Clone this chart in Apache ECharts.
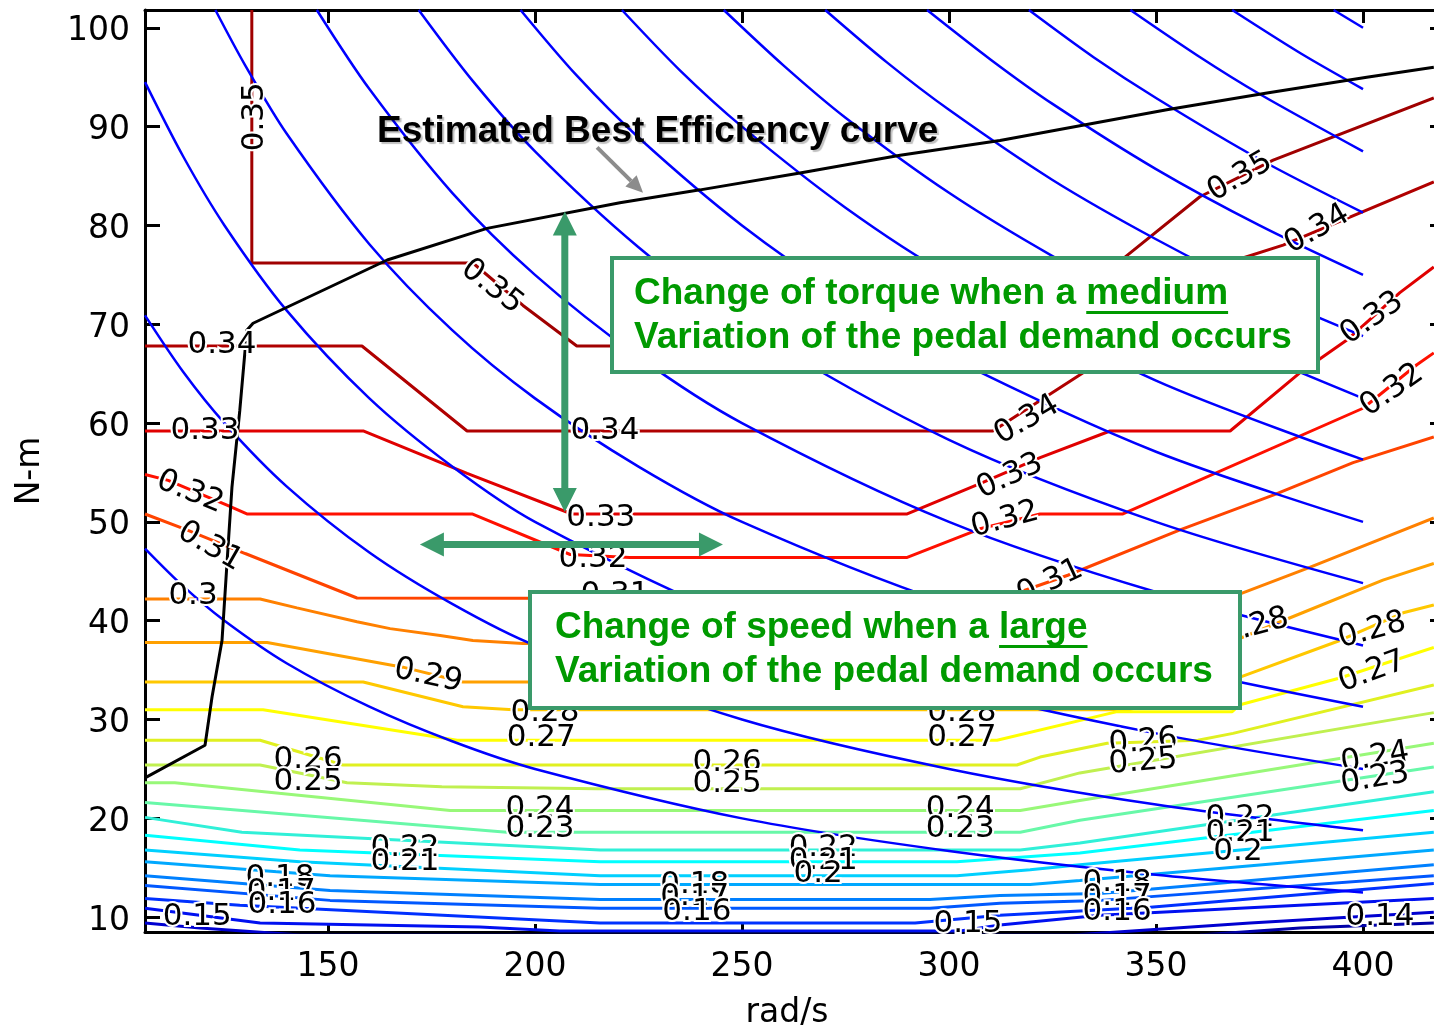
<!DOCTYPE html>
<html><head><meta charset="utf-8">
<script src="https://cdn.jsdelivr.net/npm/echarts@6/dist/echarts.min.js"></script>
<style>html,body{margin:0;padding:0;background:#fff;overflow:hidden}#c{width:1434px;height:1025px}</style>
</head><body><div id="c"></div>
<script>
// ---------- axes ----------
const X_MIN = 105.8, X_MAX = 419.8, Y_MIN = 8.5, Y_MAX = 101.8;
const xTicks = [150, 200, 250, 300, 350, 400];
const yTicks = [10, 20, 30, 40, 50, 60, 70, 80, 90, 100];

// ---------- estimated best efficiency curve (rad/s, N·m) ----------
const bestEfficiency = [[105.8,24.1],[120.3,27.4],[122.0,32.3],[124.4,38.0],[125.6,45.8],[126.8,53.5],[128.7,61.3],[130.4,69.4],[131.9,70.1],[164.3,76.5],[188.4,79.7],[220.5,82.3],[239.9,83.6],[264.0,85.3],[288.2,87.1],[312.3,88.6],[352.6,91.7],[376.8,93.4],[400.9,95.0],[417.1,96.0]];

// ---------- constant power lines (blue) ----------
const power05 = [[105.8,47.3],[115,43.5],[125,40],[140,35.7],[160,31.3],[180,27.8],[200,25],[250,20],[300,16.7],[350,14.3],[400,12.5]];
const power075 = [[105.8,70.9],[115,65.2],[125,60],[140,53.6],[160,46.9],[180,41.7],[200,37.5],[250,30],[300,25],[350,21.4],[400,18.8]];
const power10 = [[105.8,94.5],[115,87],[125,80],[140,71.4],[160,62.5],[180,55.6],[200,50],[250,40],[300,33.3],[350,28.6],[400,25]];
const power125 = [[122.8,101.8],[130,96.2],[140,89.3],[160,78.1],[180,69.4],[200,62.5],[225,55.6],[250,50],[300,41.7],[350,35.7],[400,31.3]];
const power15 = [[147.3,101.8],[160,93.8],[180,83.3],[200,75],[225,66.7],[250,60],[300,50],[350,42.9],[400,37.5]];
const power175 = [[171.9,101.8],[185,94.6],[200,87.5],[225,77.8],[250,70],[300,58.3],[350,50],[400,43.8]];
const power20 = [[196.5,101.8],[210,95.2],[225,88.9],[250,80],[275,72.7],[300,66.7],[350,57.1],[400,50]];
const power225 = [[221,101.8],[235,95.7],[250,90],[275,81.8],[300,75],[350,64.3],[400,56.3]];
const power25 = [[245.6,101.8],[260,96.2],[275,90.9],[300,83.3],[325,76.9],[350,71.4],[400,62.5]];
const power275 = [[270.1,101.8],[285,96.5],[300,91.7],[325,84.6],[350,78.6],[375,73.3],[400,68.8]];
const power30 = [[294.7,101.8],[310,96.8],[325,92.3],[350,85.7],[375,80],[400,75]];
const power325 = [[319.3,101.8],[335,97],[350,92.9],[375,86.7],[400,81.3]];
const power35 = [[343.8,101.8],[360,97.2],[375,93.3],[400,87.5]];
const power375 = [[368.4,101.8],[385,97.4],[400,93.8]];
const power40 = [[392.9,101.8],[400,100]];

// ---------- efficiency contours ----------
const c035 = [[131.6,101.8],[131.6,76.2],[185.0,76.2],[197.1,71.9],[210.1,67.8],[315.7,67.8],[342.5,76.8],[360.6,82.9],[378.3,86.6],[417.1,92.9]];
const c034 = [[105.8,67.8],[158.2,67.8],[183.6,59.2],[310.6,59.2],[332.4,65.1],[367.9,76.3],[380.7,78.0],[417.1,84.4]];
const c033 = [[105.8,59.2],[158.5,59.2],[183.6,54.9],[208.9,50.8],[289.9,50.8],[308.2,54.0],[322.0,56.5],[338.9,59.2],[367.9,59.2],[384.8,65.1],[396.1,68.4],[408.9,73.2],[417.1,75.8]];
const c032 = [[105.8,54.8],[111.4,54.2],[125.6,51.7],[130.4,50.8],[184.8,50.8],[208.5,46.7],[222.9,46.4],[289.9,46.4],[307.5,49.3],[322.0,50.8],[342.0,50.8],[400.0,61.5],[413.0,65.9],[417.1,67.1]];
const c031 = [[105.8,50.8],[115.9,49.2],[130.0,46.8],[157.0,42.3],[312.3,42.2],[328.7,44.6],[355.8,49.2],[378.3,52.7],[397.6,56.0],[417.1,58.6]];
const c030 = [[105.8,42.2],[133.6,42.2],[142.5,41.3],[157.0,39.9],[165.0,39.2],[177.1,38.5],[185.0,38.0],[197.1,37.7],[338.9,37.7],[370.8,42.8],[386.5,45.3],[417.1,50.4]];
const c029 = [[105.8,37.8],[135.3,37.8],[168.1,35.3],[182.6,33.8],[344.7,33.8],[382.4,40.3],[404.8,44.1],[417.1,45.8]];
const c028 = [[105.8,33.8],[158.5,33.8],[182.6,31.3],[194.7,31.0],[343.7,31.0],[370.3,34.3],[394.4,38.0],[409.7,40.8],[417.1,41.6]];
const c027 = [[105.8,31.0],[134.3,31.0],[181.2,27.9],[311.6,27.9],[340.6,30.8],[368.4,30.8],[370.3,31.5],[394.4,34.2],[417.1,37.3]];
const c026 = [[105.8,27.9],[133.6,27.9],[153.6,25.4],[316.4,25.4],[322.0,26.2],[338.2,27.6],[360.1,27.9],[368.6,28.6],[417.1,33.5]];
const c025 = [[105.8,25.4],[133.6,25.4],[154.6,23.6],[177.5,23.2],[215.0,23.0],[317.2,23.0],[331.6,24.6],[417.1,30.7]];
const c024 = [[105.8,23.6],[113.0,23.6],[179.5,20.8],[317.2,20.8],[331.6,21.8],[417.1,27.6]];
const c023 = [[105.8,21.6],[193.2,18.6],[317.2,18.6],[331.6,19.8],[417.1,25.2]];
const c022 = [[105.8,20.1],[129.2,18.6],[215.7,16.8],[317.2,16.8],[331.6,17.5],[417.1,22.7]];
const c021 = [[105.8,18.3],[143.2,16.8],[215.7,15.6],[301.9,15.6],[331.6,16.5],[417.1,20.8]];
const c020 = [[105.8,16.8],[143.2,15.6],[215.7,14.2],[301.9,14.2],[319.6,14.8],[331.6,15.3],[417.1,18.6]];
const c019 = [[105.8,15.6],[150.5,14.2],[215.7,13.3],[319.6,13.3],[331.6,13.7],[417.1,16.8]];
const c018 = [[105.8,14.2],[150.5,12.7],[215.7,11.8],[295.4,11.8],[312.3,12.2],[336.5,12.4],[417.1,15.3]];
const c017 = [[105.8,13.2],[150.5,11.7],[215.7,10.9],[295.4,10.9],[312.3,11.4],[336.5,11.7],[417.1,14.2]];
const c016 = [[105.8,11.9],[128.7,11.2],[215.7,9.4],[291.8,9.4],[312.3,10.2],[348.6,11.0],[417.1,13.4]];
const c015 = [[105.8,10.9],[133.6,9.4],[186.7,9.0],[206.0,8.6],[302.7,8.6],[312.3,9.2],[336.5,10.2],[417.1,11.9]];
const c014 = [[105.8,9.4],[119.1,8.9],[143.2,8.2],[330.0,8.2],[372.7,9.4],[417.1,10.5]];
const c013 = [[360.6,8.2],[384.8,8.9],[417.1,9.4]];

// ---------- contour labels [rad/s, N·m, text, angle] ----------
const contourLabels = [
 [132.4,91.0,'0.35',90],[189.6,73.8,'0.35',-38],[124.4,67.9,'0.34',0],[120.3,59.2,'0.33',0],
 [116.7,53.0,'0.32',-22],[121.5,47.5,'0.31',-30],[117.4,42.5,'0.3',0],[174.2,34.4,'0.29',-12],
 [145.2,25.9,'0.26',0],[145.2,23.7,'0.25',0],[168.6,17.0,'0.22',0],[168.6,15.6,'0.21',0],
 [138.4,14.0,'0.18',0],[138.7,12.6,'0.17',0],[138.9,11.2,'0.16',0],[118.4,10.0,'0.15',0],
 [216.9,59.2,'0.34',0],[215.9,50.4,'0.33',0],[214.0,46.3,'0.32',0],[219.3,42.6,'0.31',0],
 [202.4,30.7,'0.28',0],[201.5,28.1,'0.27',0],[303.1,30.7,'0.28',0],[303.1,28.1,'0.27',0],
 [246.4,25.6,'0.26',0],[246.4,23.5,'0.25',0],[201.2,21.0,'0.24',0],[201.2,18.9,'0.23',0],
 [302.7,21.0,'0.24',0],[302.7,18.9,'0.23',0],[269.6,17.0,'0.22',0],[269.6,15.7,'0.21',0],
 [268.4,14.4,'0.2',0],[238.6,13.3,'0.18',0],[238.6,12.0,'0.17',0],[239.1,10.5,'0.16',0],
 [304.6,9.3,'0.15',0],[318.8,60.3,'0.34',30],[314.7,54.6,'0.33',25],[313.5,50.2,'0.32',15],
 [324.4,43.9,'0.31',25],[370.3,84.9,'0.35',30],[388.9,79.6,'0.34',30],[402.2,70.6,'0.33',35],
 [407.0,63.3,'0.32',35],[373.9,39.4,'0.28',15],[402.2,39.0,'0.28',15],[402.2,34.8,'0.27',20],
 [346.9,27.7,'0.26',5],[346.9,25.7,'0.25',5],[402.9,26.1,'0.24',10],[402.9,24.0,'0.23',10],
 [370.3,20.0,'0.22',0],[370.3,18.5,'0.21',0],[369.8,16.6,'0.2',0],[340.6,13.5,'0.18',0],
 [340.6,12.0,'0.17',0],[340.6,10.5,'0.16',0],[404.1,10.0,'0.14',0]
];

// ---------- annotation anchors (rad/s, N·m) ----------
const torqueArrow = [[207.2,81.4],[207.2,51.0]];
const speedArrow = [[172.2,47.7],[245.4,47.7]];
const pointerArrow = [[215.0,87.9],[226.1,83.3]];

// ---------- build ----------
const FONT = 'DejaVu Sans';
const contours = [
  [c035,'#a00000'],[c034,'#b00000'],[c033,'#e00000'],[c032,'#ff1000'],[c031,'#ff4400'],
  [c030,'#ff8000'],[c029,'#ffa000'],[c028,'#ffc800'],[c027,'#ffff00'],[c026,'#e0f020'],
  [c025,'#c0f050'],[c024,'#98f878'],[c023,'#68f8a8'],[c022,'#30f0d8'],[c021,'#00ffff'],
  [c020,'#00d0ff'],[c019,'#00a8ff'],[c018,'#0080ff'],[c017,'#0058ff'],[c016,'#0030ff'],
  [c015,'#0010f0'],[c014,'#0000d0'],[c013,'#0000a8']
];
const powerLines = [power05,power075,power10,power125,power15,power175,power20,power225,power25,power275,power30,power325,power35,power375,power40];

const series = [];
contours.forEach(([d,col]) => series.push({type:'line', data:d, symbol:'none', silent:true, z:2,
  lineStyle:{color:col, width:3}}));
powerLines.forEach(d => series.push({type:'line', data:d, symbol:'none', silent:true, smooth:0.3, z:3,
  lineStyle:{color:'#0000ff', width:2.5}}));
series.push({type:'line', data:bestEfficiency, symbol:'none', silent:true, z:4, lineStyle:{color:'#000', width:3}});
series.push({type:'scatter', silent:true, z:6, symbolSize:2, itemStyle:{color:'rgba(0,0,0,0)'},
  data: contourLabels.map(l => ({value:[l[0],l[1]], name:l[2], label:{rotate:l[3]}})),
  label:{show:true, position:'inside', formatter:'{b}', fontFamily:FONT, fontSize:31, color:'#000',
    textBorderColor:'#fff', textBorderWidth:4, opacity:1},
  labelLayout:{hideOverlap:false}
});

const axisLineStyle = {color:'#000', width:3};
const chart = echarts.init(document.getElementById('c'), null, {width:1434, height:1025});
chart.setOption({
  backgroundColor:'#fff', animation:false,
  grid:{left:145, top:10, width:1300, height:922, containLabel:false, outerBoundsMode:'none'},
  xAxis:[
    {type:'value', position:'bottom', min:X_MIN, max:X_MAX,
     axisLine:{show:true, onZero:false, lineStyle:axisLineStyle},
     axisTick:{show:true, inside:true, length:8, customValues:xTicks, lineStyle:{color:'#000', width:3}},
     axisLabel:{show:true, customValues:xTicks, fontFamily:FONT, fontSize:33, color:'#000', margin:19},
     splitLine:{show:false},
     name:'rad/s', nameLocation:'middle', nameGap:65,
     nameTextStyle:{fontFamily:FONT, fontSize:33, color:'#000', padding:[0,16,0,0]}},
    {type:'value', position:'top', min:X_MIN, max:X_MAX,
     axisLine:{show:true, onZero:false, lineStyle:axisLineStyle},
     axisTick:{show:true, inside:true, length:13, customValues:xTicks, lineStyle:{color:'#000', width:3}},
     axisLabel:{show:false}, splitLine:{show:false}}
  ],
  yAxis:[
    {type:'value', position:'left', min:Y_MIN, max:Y_MAX,
     axisLine:{show:true, onZero:false, lineStyle:axisLineStyle},
     axisTick:{show:true, inside:true, length:15, customValues:yTicks, lineStyle:{color:'#000', width:3}},
     axisLabel:{show:true, customValues:yTicks, margin:15, formatter:'{v|{value}}',
       rich:{v:{fontFamily:FONT, fontSize:33, color:'#000', padding:[8,0,0,0]}}},
     splitLine:{show:false},
     name:'N-m', nameLocation:'middle', nameGap:98, nameTextStyle:{fontFamily:FONT, fontSize:33, color:'#000'}},
    {type:'value', position:'right', min:Y_MIN, max:Y_MAX,
     axisLine:{show:true, onZero:false, lineStyle:axisLineStyle},
     axisTick:{show:true, inside:true, length:15, customValues:yTicks, lineStyle:{color:'#000', width:3}},
     axisLabel:{show:false}, splitLine:{show:false}}
  ],
  series
});

// ---------- annotations ----------
const px = p => chart.convertToPixel({xAxisIndex:0, yAxisIndex:0}, p);
function doubleArrow(a, b, sw, hw, hl){
  const dx=b[0]-a[0], dy=b[1]-a[1], len=Math.hypot(dx,dy), ux=dx/len, uy=dy/len, nx=-uy, ny=ux;
  const P=(p,t,s)=>[p[0]+ux*t+nx*s, p[1]+uy*t+ny*s];
  return [a, P(a,hl,hw), P(a,hl,sw), P(b,-hl,sw), P(b,-hl,hw), b, P(b,-hl,-hw), P(b,-hl,-sw), P(a,hl,-sw), P(a,hl,-hw)];
}
const GREEN = '#3a9a6a', TXT = '#009a00';
const BOXFONT = 'bold 37px "Liberation Sans", Arial, sans-serif';
const mctx = document.createElement('canvas').getContext('2d');
mctx.font = BOXFONT;
const w = s => mctx.measureText(s).width;

const tA = torqueArrow.map(px), sA = speedArrow.map(px), pA = pointerArrow.map(px);
const pdx = pA[1][0]-pA[0][0], pdy = pA[1][1]-pA[0][1], pl = Math.hypot(pdx,pdy), pux = pdx/pl, puy = pdy/pl;
const headL = 17, headW = 8;
const pBase = [pA[1][0]-pux*headL, pA[1][1]-puy*headL];

function textEl(x, y, text, font, fill, extra){
  return Object.assign({type:'text', x, y, z:120, silent:true,
    style:Object.assign({text, font, fill, align:'left', verticalAlign:'middle', textAlign:'left', textVerticalAlign:'middle'}, extra||{})});
}
const box1 = {x:612, y:258, w:706, h:114, tx:634, l1:294, l2:338, pre:'Change of torque when a ', u:'medium'};
const box2 = {x:530, y:592, w:710, h:116, tx:555, l1:628, l2:672, pre:'Change of speed when a ', u:'large'};
const graphics = [];
[box1, box2].forEach(b => {
  graphics.push({type:'rect', z:110, silent:true, shape:{x:b.x, y:b.y, width:b.w, height:b.h},
    style:{fill:'#fff', stroke:GREEN, lineWidth:4}});
  graphics.push(textEl(b.tx, b.l1, b.pre + b.u, BOXFONT, TXT));
  graphics.push(textEl(b.tx, b.l2, 'Variation of the pedal demand occurs', BOXFONT, TXT));
  const ux0 = b.tx + w(b.pre), ux1 = ux0 + w(b.u);
  graphics.push({type:'rect', z:120, silent:true, shape:{x:ux0, y:b.l1+17, width:ux1-ux0, height:3}, style:{fill:TXT}});
});
graphics.push(textEl(377, 132, 'Estimated Best Efficiency curve', BOXFONT, '#000',
  {textShadowColor:'rgba(0,0,0,0.25)', textShadowOffsetX:2, textShadowOffsetY:2, textShadowBlur:1}));
graphics.push({type:'line', z:115, silent:true, shape:{x1:pA[0][0], y1:pA[0][1], x2:pBase[0], y2:pBase[1]},
  style:{stroke:'#8c8c8c', lineWidth:4}});
graphics.push({type:'polygon', z:115, silent:true, shape:{points:[pA[1], [pBase[0]-puy*headW, pBase[1]+pux*headW], [pBase[0]+puy*headW, pBase[1]-pux*headW]]},
  style:{fill:'#8c8c8c'}});
graphics.push({type:'polygon', z:130, silent:true, shape:{points:doubleArrow(tA[0], tA[1], 3.5, 12, 24)}, style:{fill:GREEN}});
graphics.push({type:'polygon', z:130, silent:true, shape:{points:doubleArrow(sA[0], sA[1], 3.5, 12, 24)}, style:{fill:GREEN}});
chart.setOption({graphic:graphics});
</script></body></html>
